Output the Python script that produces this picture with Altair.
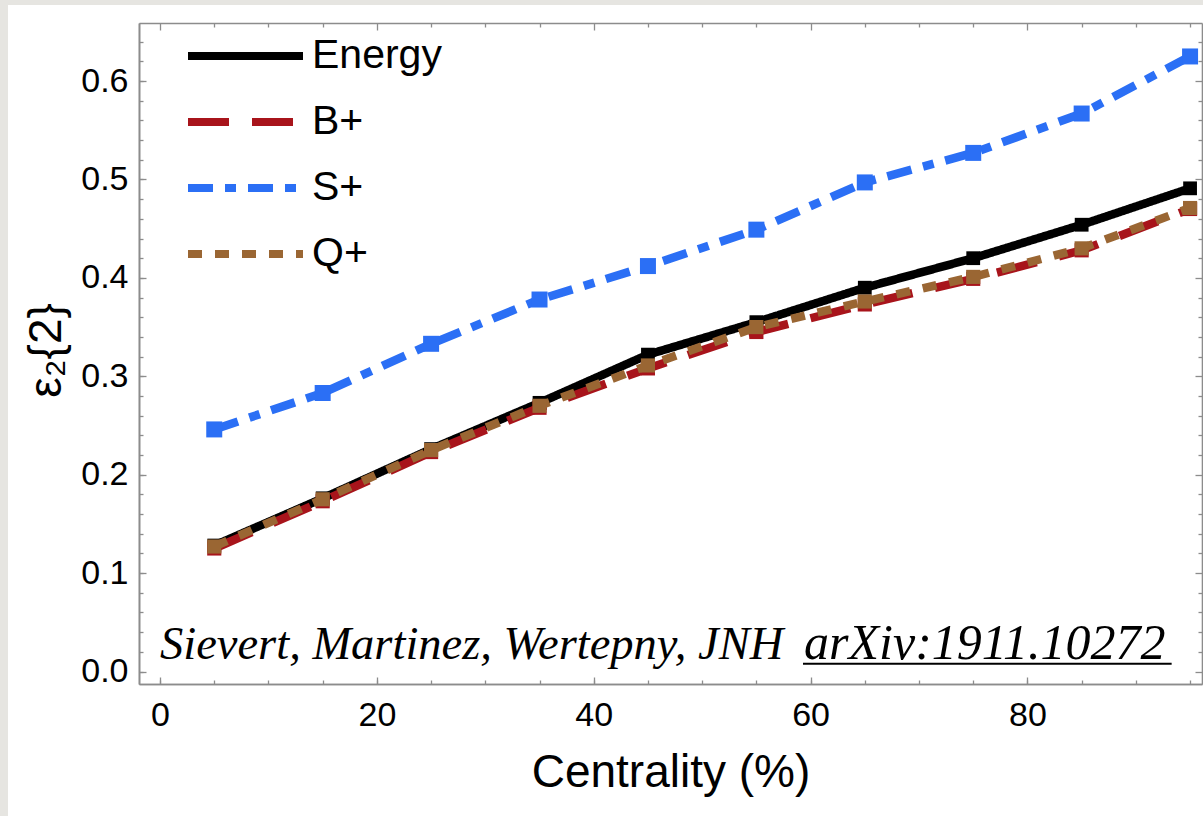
import altair as alt
import pandas as pd

# ---- data ----
centrality = [5, 15, 25, 35, 45, 55, 65, 75, 85, 95]
energy = [0.128, 0.176, 0.226, 0.273, 0.322, 0.355, 0.390, 0.420, 0.454, 0.491]
b_plus = [0.125, 0.173, 0.223, 0.268, 0.308, 0.345, 0.373, 0.399, 0.428, 0.470]
s_plus = [0.246, 0.283, 0.333, 0.378, 0.412, 0.449, 0.497, 0.527, 0.567, 0.625]
q_plus = [0.127, 0.175, 0.225, 0.270, 0.311, 0.350, 0.376, 0.401, 0.430, 0.471]

series_names = ["Energy", "B+", "S+", "Q+"]
series_values = [energy, b_plus, s_plus, q_plus]

x_major_ticks = [0, 20, 40, 60, 80]
x_all_ticks = list(range(0, 100, 5))
y_major_ticks = [0.0, 0.1, 0.2, 0.3, 0.4, 0.5, 0.6]
y_all_ticks = [round(i * 0.02, 2) for i in range(33)]

annotation_texts = ["Sievert, Martinez, Wertepny, JNH", "arXiv:1911.10272"]
annotation_x = [0, 59.4]
annotation_y = [0.0122, 0.0122]
annotation_sizes = [46.5, 50]
underline_x = [59.3]
underline_x2 = [93.3]
underline_y = [0.008]

# ---- styles ----
series_colors = ["#000000", "#A8141B", "#2B6FF5", "#9A6633"]
series_dashes = [[1, 0], [41, 23], [25, 12, 11, 12], [14, 13]]
marker_sizes = [190, 200, 256, 200]
FONT = "Liberation Sans"
AXIS_GREY = "#8c8c8c"

rows = []
for name, vals in zip(series_names, series_values):
    for c, v in zip(centrality, vals):
        rows.append({"centrality": c, "eps": v, "series": name})
df = pd.DataFrame(rows)

xscale = alt.Scale(domain=[-1.94, 96.1], nice=False, zero=False)
yscale = alt.Scale(domain=[-0.0127, 0.659], nice=False, zero=False)
color_scale = alt.Scale(domain=series_names, range=series_colors)
dash_scale = alt.Scale(domain=series_names, range=series_dashes)

x_major = "datum.value % 20 === 0"
y_major = "abs(datum.value*10 - round(datum.value*10)) < 0.001"

common_axis = dict(
    grid=False, domainColor=AXIS_GREY, domainWidth=1.6,
    tickColor=AXIS_GREY, tickWidth=1.3,
    labelFont=FONT, labelColor="black", labelFontSize=34,
    labelOverlap=False, labelFlush=False,
    titleFont=FONT, titleFontWeight="normal", titleColor="black",
    zindex=1,
)

# major ticks + labels (bottom / left)
x_axis_bottom = alt.Axis(
    orient="bottom", values=x_major_ticks,
    tickSize={"expr": "-7"}, format="d",
    labelPadding=21, labelBaseline="top",
    title="Centrality (%)", titleFontSize=46,
    titleX=531.5, titleY=102, titleAlign="center", titleBaseline="alphabetic",
    **common_axis,
)
y_axis_left = alt.Axis(
    orient="left", values=y_major_ticks,
    tickSize={"expr": "-7"}, format=".1f",
    labelPadding=18,
    title="ε₂{2}", titleFontSize=46, titleAngle=270,
    titleX=-93, titleY=327, titleAlign="center", titleBaseline="middle",
    **common_axis,
)
# minor ticks (bottom / left), no labels
x_axis_bottom_minor = alt.Axis(
    orient="bottom", values=x_all_ticks, tickSize={"expr": "-4"},
    labels=False, title=None, **common_axis,
)
y_axis_left_minor = alt.Axis(
    orient="left", values=y_all_ticks, tickSize={"expr": "-4"},
    labels=False, title=None, **common_axis,
)
# frame: top / right ticks
x_axis_top = alt.Axis(
    orient="top", values=x_all_ticks,
    tickSize={"expr": f"{x_major} ? -7 : -4"},
    labels=False, title=None, **common_axis,
)
y_axis_right = alt.Axis(
    orient="right", values=y_all_ticks,
    tickSize={"expr": f"{y_major} ? -7 : -4"},
    labels=False, title=None, **common_axis,
)

legend = alt.Legend(
    title=None, orient="none", legendX=45, legendY=8,
    symbolType="stroke", symbolSize=13225, symbolStrokeWidth=8,
    clipHeight=50, rowPadding=16, labelOffset=5,
    labelFont=FONT, labelFontSize=41, labelColor="black",
    labelLimit=400, padding=0,
)

base = alt.Chart(df)

# white card behind everything (decoration)
card = alt.Chart(pd.DataFrame({"k": [0]})).mark_rect(color="white").encode(
    x=alt.value(-131), x2=alt.value(1070), y=alt.value(-18), y2=alt.value(800)
)

layers = [card]
for i, name in enumerate(series_names):
    sub = base.transform_filter(alt.datum.series == name)
    line = sub.mark_line(strokeWidth=8.5, strokeCap="butt", strokeJoin="miter").encode(
        x=alt.X("centrality:Q", scale=xscale, axis=x_axis_bottom if i == 0 else alt.Undefined),
        y=alt.Y("eps:Q", scale=yscale, axis=y_axis_left if i == 0 else alt.Undefined),
        color=alt.Color("series:N", scale=color_scale, legend=legend),
        strokeDash=alt.StrokeDash("series:N", scale=dash_scale, legend=legend),
    )
    pts = sub.mark_square(size=marker_sizes[i], opacity=1).encode(
        x=alt.X("centrality:Q", scale=xscale),
        y=alt.Y("eps:Q", scale=yscale),
        color=alt.Color("series:N", scale=color_scale, legend=None),
    )
    layers += [line, pts]

for t, ax, ay, fs in zip(annotation_texts, annotation_x, annotation_y, annotation_sizes):
    ann = alt.Chart(pd.DataFrame({"x": [ax], "y": [ay], "t": [t]})).mark_text(
        font="Liberation Serif", fontStyle="italic", fontSize=fs,
        align="left", baseline="alphabetic", color="black",
    ).encode(
        x=alt.X("x:Q", scale=xscale), y=alt.Y("y:Q", scale=yscale), text="t:N"
    )
    layers.append(ann)

ul_df = pd.DataFrame({"x": underline_x, "x2": underline_x2, "y": underline_y})
underline = alt.Chart(ul_df).mark_rule(color="black", strokeWidth=2).encode(
    x=alt.X("x:Q", scale=xscale), x2="x2:Q", y=alt.Y("y:Q", scale=yscale)
)
layers.append(underline)

main = alt.layer(*layers)

anchor = pd.DataFrame({"x": [50], "y": [0.3]})
minor = alt.Chart(anchor).mark_point(opacity=0).encode(
    x=alt.X("x:Q", scale=xscale, axis=x_axis_bottom_minor),
    y=alt.Y("y:Q", scale=yscale, axis=y_axis_left_minor),
)
frame = alt.Chart(anchor).mark_point(opacity=0).encode(
    x=alt.X("x:Q", scale=xscale, axis=x_axis_top),
    y=alt.Y("y:Q", scale=yscale, axis=y_axis_right),
)

chart = alt.layer(main, minor, frame).resolve_axis(
    x="independent", y="independent"
).properties(
    width=1063, height=661,
    autosize=alt.AutoSizeParams(type="none"),
    padding={"left": 139, "top": 23, "right": 1, "bottom": 132},
).configure(
    background="#e6e5e1"
).configure_view(stroke=None)

chart.save("out.html", embed_options={"renderer": "svg", "actions": False})
